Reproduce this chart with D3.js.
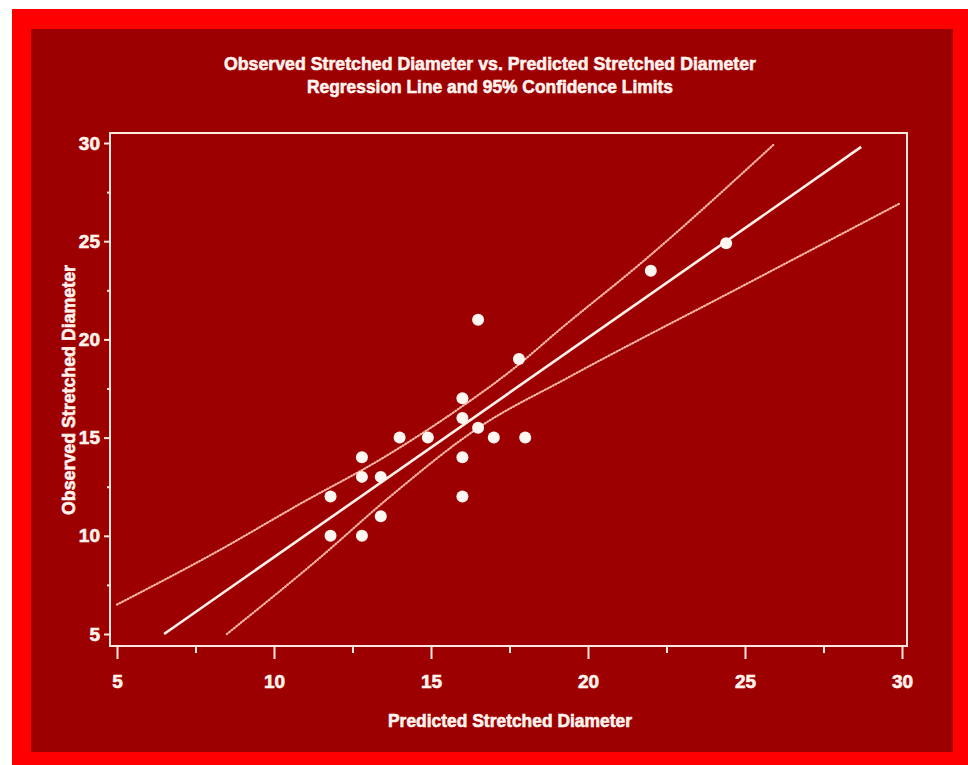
<!DOCTYPE html>
<html>
<head>
<meta charset="utf-8">
<script src="https://cdn.jsdelivr.net/npm/d3@7"></script>
<style>
  body { margin: 0; background: #fff; }
  text { font-family: 'Liberation Sans', Arial, sans-serif; font-weight: bold; fill: #fff3ee; stroke: #fff3ee; stroke-width: 0.6px; }
</style>
</head>
<body>
<div id="chart"></div>
<script>
// observed vs predicted points
const predicted = [11.8, 11.8, 12.8, 12.8, 12.8, 13.4, 13.4, 14.0, 14.9, 16.0, 16.0, 16.0, 16.0, 16.5, 16.5, 17.0, 17.8, 18.0, 22.0, 24.4];
const observed  = [12.0, 10.0, 14.0, 13.0, 10.0, 13.0, 11.0, 15.0, 15.0, 17.0, 16.0, 14.0, 12.0, 21.0, 15.5, 15.0, 19.0, 15.0, 23.5, 24.9];

// regression line ends
const regX = [6.5, 28.7];
const regY = [5.0, 29.8];

// 95% confidence limits
const upperX = [5.0, 8.3, 10.8, 13.4, 16.0, 17.7, 19.1, 21.7, 25.9];
const upperY = [6.5, 9.3, 11.6, 13.9, 16.6, 18.6, 20.5, 23.9, 29.9];
const lowerX = [8.5, 11.4, 13.7, 16.6, 19.3, 24.9, 29.9];
const lowerY = [5.0, 8.8, 12.0, 15.6, 18.0, 22.7, 26.9];

const majorTicks = [5, 10, 15, 20, 25, 30];
const minorTicks = [7.5, 12.5, 17.5, 22.5, 27.5];

const width = 968;
const height = 765;
const frame = {left: 110, top: 133, right: 907, bottom: 646};

const svg = d3.select('#chart')
    .append('svg')
    .attr('width', width)
    .attr('height', height);

svg.append('rect')
    .attr('x', 12).attr('y', 9)
    .attr('width', width - 12).attr('height', height - 9)
    .attr('fill', '#ff0000');
svg.append('rect')
    .attr('x', 31).attr('y', 29)
    .attr('width', 922).attr('height', 723)
    .attr('fill', '#9d0000');

const x = d3.scaleLinear()
    .domain([5, 30])
    .range([117, 902]);

const y = d3.scaleLinear()
    .domain([5, 30])
    .range([634, 143]);

// titles
svg.append('text')
    .attr('x', 490).attr('y', 70)
    .attr('text-anchor', 'middle')
    .attr('font-size', 19)
    .attr('textLength', 532).attr('lengthAdjust', 'spacingAndGlyphs')
    .text('Observed Stretched Diameter vs. Predicted Stretched Diameter');
svg.append('text')
    .attr('x', 490).attr('y', 93)
    .attr('text-anchor', 'middle')
    .attr('font-size', 19)
    .attr('textLength', 366).attr('lengthAdjust', 'spacingAndGlyphs')
    .text('Regression Line and 95% Confidence Limits');

svg.append('rect')
    .attr('x', frame.left).attr('y', frame.top)
    .attr('width', frame.right - frame.left)
    .attr('height', frame.bottom - frame.top)
    .attr('fill', 'none')
    .attr('stroke', '#ffe6de')
    .attr('stroke-width', 2);

function styleAxis(g) {
    g.select('.domain').remove();
    g.selectAll('line').attr('stroke', '#ffe6de').attr('stroke-width', 2);
    g.selectAll('text')
        .attr('font-size', 19)
        .attr('font-family', "'Liberation Sans', Arial, sans-serif")
        .attr('font-weight', 'bold')
        .attr('fill', '#fff3ee');
}

svg.append('g')
    .attr('transform', `translate(0, ${frame.bottom})`)
    .call(d3.axisBottom(x).tickValues(majorTicks).tickSize(13).tickPadding(16).tickFormat(d3.format('d')))
    .call(styleAxis);
svg.append('g')
    .attr('transform', `translate(0, ${frame.bottom})`)
    .call(d3.axisBottom(x).tickValues(minorTicks).tickSize(7).tickFormat(''))
    .call(styleAxis);

svg.append('g')
    .attr('transform', `translate(${frame.left}, 0)`)
    .call(d3.axisLeft(y).tickValues(majorTicks).tickSize(6).tickPadding(4).tickFormat(d3.format('d')))
    .call(styleAxis);
svg.append('g')
    .attr('transform', `translate(${frame.left}, 0)`)
    .call(d3.axisLeft(y).tickValues(minorTicks).tickSize(3).tickFormat(''))
    .call(styleAxis);

svg.append('text')
    .attr('x', 510).attr('y', 727)
    .attr('text-anchor', 'middle')
    .attr('font-size', 19)
    .attr('textLength', 244).attr('lengthAdjust', 'spacingAndGlyphs')
    .text('Predicted Stretched Diameter');
svg.append('text')
    .attr('transform', 'translate(75, 390) rotate(-90)')
    .attr('text-anchor', 'middle')
    .attr('font-size', 19)
    .attr('textLength', 250).attr('lengthAdjust', 'spacingAndGlyphs')
    .text('Observed Stretched Diameter');

const line = d3.line()
    .x(d => x(d[0]))
    .y(d => y(d[1]))
    .curve(d3.curveMonotoneX);

svg.append('path')
    .datum(d3.zip(regX, regY))
    .attr('d', line)
    .attr('fill', 'none')
    .attr('stroke', '#fff0ea')
    .attr('stroke-width', 2.6);

[d3.zip(upperX, upperY), d3.zip(lowerX, lowerY)].forEach(pts => {
    svg.append('path')
        .datum(pts)
        .attr('d', line)
        .attr('fill', 'none')
        .attr('stroke', '#ffb8a8')
        .attr('stroke-width', 2.2)
        .attr('stroke-linecap', 'round')
        .attr('stroke-dasharray', '0.8,2.2');
});

svg.append('g')
    .selectAll('circle')
    .data(d3.zip(predicted, observed))
    .join('circle')
        .attr('cx', d => x(d[0]))
        .attr('cy', d => y(d[1]))
        .attr('r', 6)
        .attr('fill', '#fff6f2');
</script>
</body>
</html>
